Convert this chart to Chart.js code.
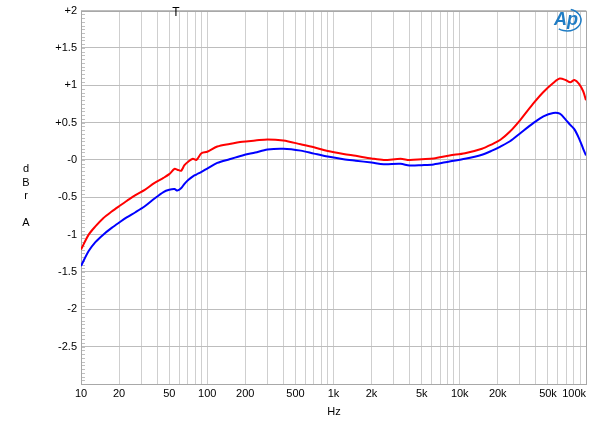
<!DOCTYPE html>
<html>
<head>
<meta charset="utf-8">
<script src="https://cdn.jsdelivr.net/npm/chart.js@4.4.0/dist/chart.umd.min.js"></script>
<style>
  html, body { margin: 0; padding: 0; background: #fff; }
  #wrap { width: 600px; height: 428px; }
</style>
</head>
<body>
<div id="wrap"><canvas id="canvas" width="600" height="428"></canvas></div>
<script>
// frequency points (Hz)
var freqs = [10, 11.5, 13, 15, 17.5, 20, 23, 27, 32, 38, 45, 50, 55, 58, 62, 66, 71, 77, 82, 90,
             100, 120, 150, 190, 240, 300, 400, 550, 700, 900, 1200, 1500, 2000, 2500, 3400, 4000,
             5000, 6200, 8300, 11000, 15000, 18000, 21000, 25000, 30000, 38000, 46000, 55000,
             62000, 69000, 75000, 81000, 88000, 95000, 100000];

// left channel (red), dBrA
var redValues = [-1.20, -1.00, -0.89, -0.78, -0.69, -0.62, -0.55, -0.47, -0.40, -0.31, -0.24, -0.19,
                 -0.12, -0.13, -0.145, -0.07, -0.02, 0.015, 0.0, 0.09,
                 0.11, 0.18, 0.215, 0.245, 0.26, 0.275, 0.26, 0.21, 0.17, 0.12, 0.08, 0.055, 0.02, 0.0,
                 0.015, 0.0, 0.01, 0.02, 0.06, 0.09, 0.15, 0.21, 0.27, 0.38, 0.53, 0.75, 0.91, 1.03,
                 1.09, 1.07, 1.04, 1.07, 1.02, 0.92, 0.80];

// right channel (blue), dBrA
var blueValues = [-1.42, -1.22, -1.10, -1.00, -0.91, -0.84, -0.77, -0.70, -0.62, -0.52, -0.43, -0.40,
                  -0.39, -0.41, -0.38, -0.32, -0.265, -0.22, -0.195, -0.16,
                  -0.115, -0.04, 0.01, 0.06, 0.10, 0.14, 0.15, 0.125, 0.085, 0.045, 0.01, -0.01, -0.035,
                  -0.057, -0.052, -0.075, -0.07, -0.06, -0.02, 0.015, 0.07, 0.125, 0.18, 0.25, 0.355,
                  0.49, 0.585, 0.63, 0.62, 0.54, 0.47, 0.41, 0.29, 0.15, 0.06];

var xTickLabels = [[10, '10'], [20, '20'], [50, '50'], [100, '100'], [200, '200'], [500, '500'],
                   [1000, '1k'], [2000, '2k'], [5000, '5k'], [10000, '10k'], [20000, '20k'],
                   [50000, '50k'], [100000, '100k']];

var FONT = '"Liberation Sans", Arial, sans-serif';

function toPoints(vals) {
    return freqs.map(function(f, i) { return { x: f, y: vals[i] }; });
}

var extras = {
    id: 'extras',
    beforeDatasetsDraw: function(chart) {
        var ctx = chart.ctx, a = chart.chartArea, y = chart.scales.y;
        ctx.save();
        // minor ticks on left edge
        ctx.strokeStyle = '#c0c0c0';
        ctx.lineWidth = 1;
        for (var v = -3; v <= 2.001; v += 0.05) {
            var py = Math.round(y.getPixelForValue(v)) + 0.5;
            ctx.beginPath();
            ctx.moveTo(a.left, py);
            ctx.lineTo(a.left + 4, py);
            ctx.stroke();
        }
        ctx.strokeStyle = '#a8a8a8';
        ctx.strokeRect(Math.round(a.left) + 0.5, Math.round(a.top) + 0.5,
                       Math.round(a.right - a.left), Math.round(a.bottom - a.top));
        ctx.restore();
    },
    afterDraw: function(chart) {
        var ctx = chart.ctx, x = chart.scales.x;
        ctx.save();
        ctx.fillStyle = '#000';
        ctx.font = '11px ' + FONT;
        ctx.textBaseline = 'middle';
        xTickLabels.forEach(function(t, i) {
            var last = (i === xTickLabels.length - 1);
            ctx.textAlign = last ? 'right' : 'center';
            ctx.fillText(t[1], x.getPixelForValue(t[0]), 394);
        });
        ctx.textAlign = 'center';
        ctx.fillText('Hz', 334, 412);
        ctx.fillText('d', 26, 169);
        ctx.fillText('B', 26, 183);
        ctx.fillText('r', 26, 196);
        ctx.fillText('A', 26, 223);
        ctx.font = '12px ' + FONT;
        ctx.fillText('T', 176, 13);

        // Ap logo
        ctx.fillStyle = '#1f7cc4';
        ctx.strokeStyle = '#1f7cc4';
        ctx.font = 'italic bold 18px ' + FONT;
        ctx.fillText('Ap', 566, 20);
        ctx.lineWidth = 1.5;
        ctx.beginPath();
        ctx.ellipse(567, 20, 14, 11, 0, -1.3, 2.2);
        ctx.stroke();
        ctx.restore();
    }
};

window.onload = function() {
    var ctx = document.getElementById('canvas').getContext('2d');
    window.myChart = new Chart(ctx, {
        type: 'line',
        data: {
            datasets: [{
                label: 'Left',
                data: toPoints(redValues),
                borderColor: '#ff0000',
                borderWidth: 2,
                pointRadius: 0,
                tension: 0.3,
                fill: false
            }, {
                label: 'Right',
                data: toPoints(blueValues),
                borderColor: '#0000ff',
                borderWidth: 2,
                pointRadius: 0,
                tension: 0.3,
                fill: false
            }]
        },
        options: {
            responsive: false,
            animation: false,
            layout: { padding: { left: 0, right: 14, top: 8, bottom: 0 } },
            plugins: {
                legend: { display: false },
                title: { display: false },
                tooltip: { enabled: false }
            },
            scales: {
                x: {
                    type: 'logarithmic',
                    min: 10,
                    max: 100000,
                    afterBuildTicks: function(scale) {
                        var t = [];
                        for (var d = 10; d < 100000; d *= 10) {
                            for (var m = 1; m < 10; m++) t.push({ value: d * m });
                        }
                        t.push({ value: 100000 });
                        scale.ticks = t;
                    },
                    afterFit: function(scale) { scale.height = 44; },
                    ticks: { display: false, autoSkip: false },
                    grid: { color: '#cfcfcf', drawTicks: false },
                    border: { display: false }
                },
                y: {
                    min: -3,
                    max: 2,
                    afterFit: function(scale) { scale.width = 81; },
                    ticks: {
                        stepSize: 0.5,
                        padding: 4,
                        color: '#000',
                        font: { family: FONT, size: 11 },
                        callback: function(v) {
                            if (v <= -3) return '';
                            return (v > 0 ? '+' : '-') + Math.abs(v);
                        }
                    },
                    grid: { color: '#bdbdbd', drawTicks: false },
                    border: { display: false }
                }
            }
        },
        plugins: [extras]
    });
};
</script>
</body>
</html>
